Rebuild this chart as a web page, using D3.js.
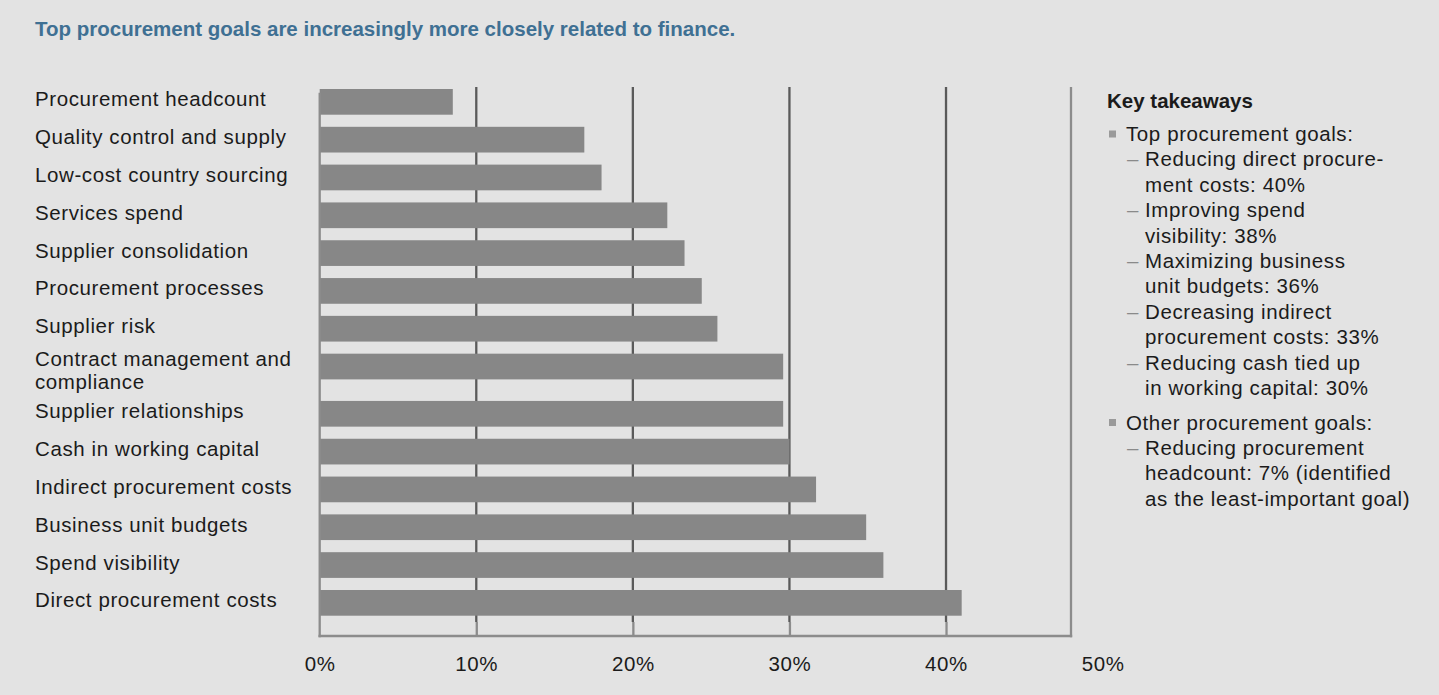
<!DOCTYPE html>
<html>
<head>
<meta charset="utf-8">
<script src="https://cdn.jsdelivr.net/npm/d3@7/dist/d3.min.js"></script>
<style>
  html, body { margin: 0; padding: 0; background: #e3e3e3; }
  svg { display: block; }
  text { font-family: "Liberation Sans", Arial, Helvetica, sans-serif; }
</style>
</head>
<body>
<svg id="chart" width="1439" height="695"></svg>
<script>
// ---- data ----
const title = "Top procurement goals are increasingly more closely related to finance.";

const categories = [
  "Procurement headcount",
  "Quality control and supply",
  "Low-cost country sourcing",
  "Services spend",
  "Supplier consolidation",
  "Procurement processes",
  "Supplier risk",
  "Contract management and\ncompliance",
  "Supplier relationships",
  "Cash in working capital",
  "Indirect procurement costs",
  "Business unit budgets",
  "Spend visibility",
  "Direct procurement costs"
];

const values = [8.5, 16.9, 18.0, 22.2, 23.3, 24.4, 25.4, 29.6, 29.6, 30.0, 31.7, 34.9, 36.0, 41.0];

const tickValues = [0, 10, 20, 30, 40, 50];
const gridValues = [10, 20, 30, 40];

const takeawayHeading = "Key takeaways";
const topGoalsHeading = "Top procurement goals:";
const topGoals = [
  ["Reducing direct procure-", "ment costs: 40%"],
  ["Improving spend", "visibility: 38%"],
  ["Maximizing business", "unit budgets: 36%"],
  ["Decreasing indirect", "procurement costs: 33%"],
  ["Reducing cash tied up", "in working capital: 30%"]
];
const otherGoalsHeading = "Other procurement goals:";
const otherGoals = [
  ["Reducing procurement", "headcount: 7% (identified", "as the least-important goal)"]
];

// ---- layout ----
const svg = d3.select("#chart");
const W = 1439, H = 695;

svg.append("rect").attr("width", W).attr("height", H).attr("fill", "#e3e3e3");

svg.append("text")
  .attr("x", 35).attr("y", 35.5)
  .attr("fill", "#3f7093")
  .attr("font-size", "20.5px")
  .attr("font-weight", "bold")
  .text(title);

const plotLeft = 319.7, plotTop = 87, plotBottom = 636, frameRight = 1071;
const x = d3.scaleLinear().domain([0, 50]).range([plotLeft, 1102.6]);

// rows: a wrapped label takes a little extra vertical room below its bar
const lineCounts = categories.map(c => c.split("\n").length);
const rowStart = [];
let acc = 0;
lineCounts.forEach(n => { rowStart.push(acc); acc += 1 + (n - 1) * 0.25; });
const yRow = d3.scaleLinear()
  .domain([0, rowStart[rowStart.length - 1]])
  .range([89, 590]);
const barH = 25.7;

const labelColor = "#1b1b1b";
const frameColor = "#8c8c8c";

// vertical gridlines
svg.append("g").selectAll("line")
  .data(gridValues).join("line")
  .attr("x1", d => x(d)).attr("x2", d => x(d))
  .attr("y1", plotTop).attr("y2", 622)
  .attr("stroke", "#5a5a5a").attr("stroke-width", 2.3);

// bars
svg.append("g").selectAll("rect")
  .data(values).join("rect")
  .attr("x", x(0))
  .attr("y", (d, i) => yRow(rowStart[i]))
  .attr("width", d => x(d) - x(0))
  .attr("height", barH)
  .attr("fill", "#878787");

// category labels
const lab = svg.append("g").attr("font-size", "20.5px").attr("fill", labelColor)
  .attr("letter-spacing", "0.6px");
categories.forEach((c, i) => {
  const lines = c.split("\n");
  const center = yRow(rowStart[i]) + barH / 2;
  const t = lab.append("text");
  lines.forEach((ln, j) => {
    t.append("tspan")
      .attr("x", 35)
      .attr("y", center + 4.5 + (lines.length > 1 ? -5 : 0) + j * 23)
      .text(ln);
  });
});

// x axis
const axis = d3.axisBottom(x)
  .tickValues(tickValues)
  .tickFormat(d => d + "%")
  .tickSizeInner(-14)
  .tickSizeOuter(0)
  .tickPadding(20);
const ax = svg.append("g").attr("transform", `translate(0,${plotBottom})`).call(axis);
ax.select(".domain").remove();
ax.selectAll(".tick line")
  .attr("stroke", frameColor).attr("stroke-width", 2.3)
  .attr("display", d => (d > 0 && d < 50) ? null : "none");
ax.selectAll(".tick text")
  .attr("fill", labelColor)
  .attr("font-size", "20.5px")
  .attr("font-family", "\"Liberation Sans\", Arial, sans-serif")
  .attr("letter-spacing", "0.6px");

// plot frame
svg.append("line").attr("x1", plotLeft).attr("x2", plotLeft).attr("y1", 92.7).attr("y2", 637.3)
  .attr("stroke", frameColor).attr("stroke-width", 2.3);
svg.append("line").attr("x1", frameRight).attr("x2", frameRight).attr("y1", plotTop).attr("y2", 637.3)
  .attr("stroke", frameColor).attr("stroke-width", 2.3);
svg.append("line").attr("x1", plotLeft - 1.2).attr("x2", frameRight + 1.2).attr("y1", plotBottom).attr("y2", plotBottom)
  .attr("stroke", frameColor).attr("stroke-width", 2.5);

// key takeaways panel
const kx = 1107, bulletX = 1109, headX = 1126, dashX = 1127, bodyX = 1145;
const lineH = 25.4;
const side = svg.append("g").attr("font-size", "20.5px").attr("fill", labelColor)
  .attr("letter-spacing", "0.6px");

side.append("text").attr("x", kx).attr("y", 108)
  .attr("font-weight", "bold").attr("letter-spacing", "0px").text(takeawayHeading);

function bulletBlock(heading, items, y0) {
  side.append("rect").attr("x", bulletX).attr("y", y0 - 10.5).attr("width", 7).attr("height", 7)
    .attr("fill", "#9a9a9a");
  side.append("text").attr("x", headX).attr("y", y0).text(heading);
  let y = y0 + lineH;
  items.forEach(item => {
    side.append("text").attr("x", dashX).attr("y", y).attr("fill", "#8a8a8a")
      .attr("letter-spacing", "0px").text("\u2013");
    item.forEach(ln => {
      side.append("text").attr("x", bodyX).attr("y", y).text(ln);
      y += lineH;
    });
  });
  return y;
}

const yEnd = bulletBlock(topGoalsHeading, topGoals, 141);
bulletBlock(otherGoalsHeading, otherGoals, yEnd - lineH + 34.5);
</script>
</body>
</html>
